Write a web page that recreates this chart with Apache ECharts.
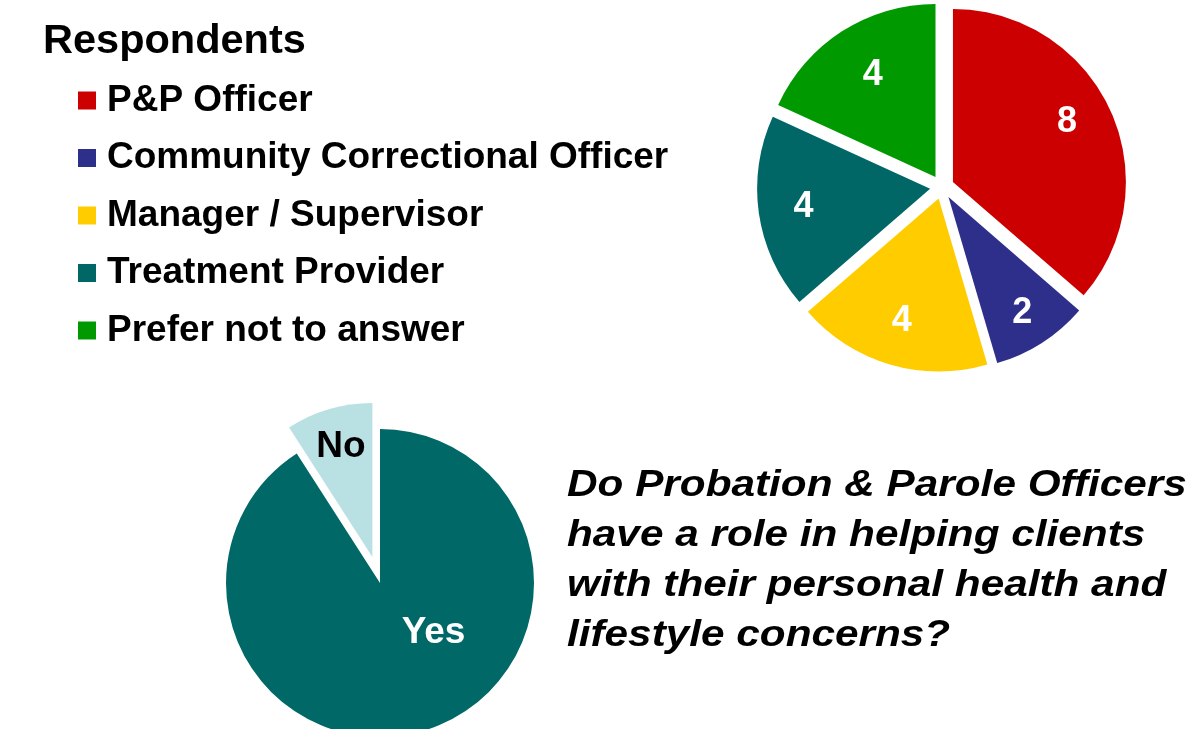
<!DOCTYPE html>
<html>
<head>
<meta charset="utf-8">
<script src="https://cdn.jsdelivr.net/npm/echarts@6/dist/echarts.min.js"></script>
<style>
html,body{margin:0;padding:0;background:#fff;}
#chart{width:1193px;height:729px;}
</style>
</head>
<body>
<div id="chart"></div>
<script>
// ---- data ----
const respondentCategories = ['P&P Officer', 'Community Correctional Officer', 'Manager / Supervisor', 'Treatment Provider', 'Prefer not to answer'];
const respondentValues = [8, 2, 4, 4, 4];
const respondentColors = ['#CC0000', '#2E2E8B', '#FFCC00', '#006666', '#009900'];

const roleCategories = ['Yes', 'No'];
const roleValues = [20, 2];
const roleColors = ['#006867', '#B9E0E3'];
const roleLabelColors = ['#FFFFFF', '#000000'];

const legendTitle = 'Respondents';
const questionLines = ['Do Probation & Parole Officers', 'have a role in helping clients', 'with their personal health and', 'lifestyle concerns?'];

const FONT = '"Liberation Sans", Arial, Helvetica, sans-serif';

const chart = echarts.init(document.getElementById('chart'), null, {renderer: 'canvas'});

const respData = respondentCategories.map((n, i) => ({
  name: n, value: respondentValues[i], selected: true,
  itemStyle: {color: respondentColors[i]},
  select: {itemStyle: {color: respondentColors[i]}}
}));
const respLabelData = respondentCategories.map((n, i) => ({
  name: n, value: respondentValues[i], selected: true
}));
const roleData = roleCategories.map((n, i) => ({
  name: n, value: roleValues[i], selected: i === 1,
  itemStyle: {color: roleColors[i]},
  select: {itemStyle: {color: roleColors[i]}},
  label: {color: roleLabelColors[i]}
}));
// label nudges (PowerPoint-style label placement)
const roleLabelShift = [[31, -27], [-9, -34]];
const respLabelShift = [[-5, -6], [3, 6], [0, -3], [3, 0], [8, 8]];

const option = {
  backgroundColor: '#ffffff',
  animation: false,
  title: {
    text: legendTitle, left: 43, top: 21, padding: 0,
    textStyle: {fontFamily: FONT, fontSize: 41.5, fontWeight: 'bold', color: '#000'}
  },
  legend: {
    data: respondentCategories,
    orient: 'vertical', left: 78, top: 80.5, padding: 0,
    icon: 'rect', itemWidth: 18, itemHeight: 18, itemGap: 17.5,
    selectedMode: false,
    textStyle: {fontFamily: FONT, fontSize: 37, fontWeight: 'bold', color: '#000', lineHeight: 40, padding: [0, 0, 0, 6]}
  },
  graphic: [{
    type: 'text', x: 567, y: 461, scaleX: 1.175, silent: true,
    style: {
      text: questionLines.join('\n'),
      font: 'italic bold 36px ' + FONT,
      fill: '#000', lineHeight: 50, textVerticalAlign: 'top'
    }
  }],
  series: [
    {
      name: 'Respondents', type: 'pie', center: [942, 187], radius: [0, 173],
      startAngle: 90, clockwise: true, selectedMode: 'multiple', selectedOffset: 12,
      silent: true, label: {show: false}, labelLine: {show: false},
      emphasis: {disabled: true}, data: respData
    },
    {
      name: 'RespondentsLabels', type: 'pie', center: [942, 187], radius: [83, 173],
      startAngle: 90, clockwise: true, selectedMode: 'multiple', selectedOffset: 12,
      silent: true, itemStyle: {color: 'rgba(0,0,0,0)'},
      select: {itemStyle: {color: 'rgba(0,0,0,0)'}},
      label: {show: true, position: 'inside', formatter: '{c}', color: '#fff', fontFamily: FONT, fontSize: 36, fontWeight: 'bold'},
      labelLine: {show: false}, emphasis: {disabled: true},
      labelLayout: function (p) {
        const s = respLabelShift[p.dataIndex];
        return {dx: s[0], dy: s[1]};
      },
      data: respLabelData
    },
    {
      name: 'Role', type: 'pie', center: [380, 583], radius: [0, 154],
      startAngle: 90, clockwise: true, selectedMode: 'multiple', selectedOffset: 27,
      silent: true,
      label: {show: true, position: 'inside', formatter: '{b}', fontFamily: FONT, fontSize: 37, fontWeight: 'bold'},
      labelLine: {show: false}, emphasis: {disabled: true},
      labelLayout: function (p) {
        const s = roleLabelShift[p.dataIndex];
        return {dx: s[0], dy: s[1]};
      },
      data: roleData
    }
  ]
};
chart.setOption(option);
</script>
</body>
</html>
